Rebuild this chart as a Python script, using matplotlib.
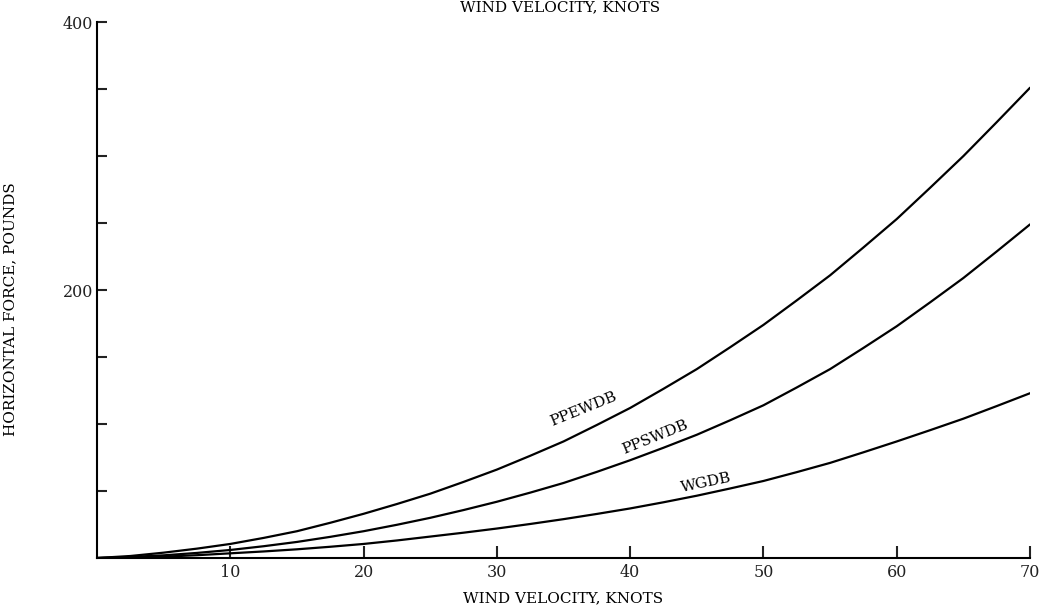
import matplotlib.pyplot as plt

# wind velocity, knots
knots = [0, 2.5, 5, 7.5, 10, 12.5, 15, 17.5, 20, 22.5, 25, 27.5, 30, 32.5, 35,
         37.5, 40, 42.5, 45, 47.5, 50, 52.5, 55, 57.5, 60, 62.5, 65, 67.5, 70]

# horizontal force, pounds
ppewdb = [0, 1.5, 4, 7, 10.5, 15, 20, 26.3, 33, 40.3, 48, 56.8, 66, 76.3, 87,
          99.3, 112, 126.3, 141, 157.3, 174, 192.3, 211, 231.8, 253, 276.3, 300, 325.3, 351]
ppswdb = [0, 0.8, 2, 3.8, 6, 8.8, 12, 15.8, 20, 24.8, 30, 35.8, 42, 48.8, 56,
          64.3, 73, 82.3, 92, 102.8, 114, 127.3, 141, 156.8, 173, 190.8, 209, 228.8, 249]
wgdb = [0, 0.4, 1, 2.1, 3.5, 4.9, 6.5, 8.4, 10.5, 13.1, 16, 18.9, 22, 25.4, 29,
        32.9, 37, 41.6, 46.5, 51.9, 57.5, 64.1, 71, 78.9, 87, 95.4, 104, 113.4, 123]

xticks = [10, 20, 30, 40, 50, 60, 70]
yticks = [50, 100, 150, 200, 250, 300, 350, 400]
ylabels = ['', '', '', '200', '', '', '', '400']

plt.rcParams['font.family'] = ['DejaVu Serif']

fig = plt.figure(figsize=(10.5, 6.13), dpi=100)
ax = fig.add_axes([0.0924, 0.0897, 0.8886, 0.8743])

for y in (ppewdb, ppswdb, wgdb):
    ax.plot(knots, y, color='black', lw=1.6, solid_capstyle='round', solid_joinstyle='round')

ax.set_xlim(0, 70)
ax.set_ylim(0, 400)
ax.set_xticks(xticks)
ax.set_yticks(yticks)
ax.set_yticklabels(ylabels)
ax.tick_params(axis='x', direction='in', length=9, width=1.5, pad=4, labelsize=11.5, colors='#222222')
ax.tick_params(axis='y', direction='in', length=7, width=1.5, pad=3, labelsize=11.5, colors='#222222')

for s in ('top', 'right'):
    ax.spines[s].set_visible(False)
for s in ('left', 'bottom'):
    ax.spines[s].set_linewidth(1.5)

ax.set_xlabel('WIND VELOCITY, KNOTS', fontsize=11, labelpad=8)
ax.set_ylabel('HORIZONTAL FORCE, POUNDS', fontsize=11)
ax.yaxis.set_label_coords(-0.085, 0.465)

# curve labels
ax.text(36.5, 111, 'PPEWDB', fontsize=11, rotation=22, ha='center', va='center')
ax.text(41.9, 90, 'PPSWDB', fontsize=11, rotation=22, ha='center', va='center')
ax.text(45.7, 56, 'WGDB', fontsize=11, rotation=12, ha='center', va='center')

# clipped header at top of page
fig.text(0.533, 0.982, 'WIND VELOCITY, KNOTS', fontsize=11, ha='center', va='baseline')

fig.savefig('out.png', dpi=100)
